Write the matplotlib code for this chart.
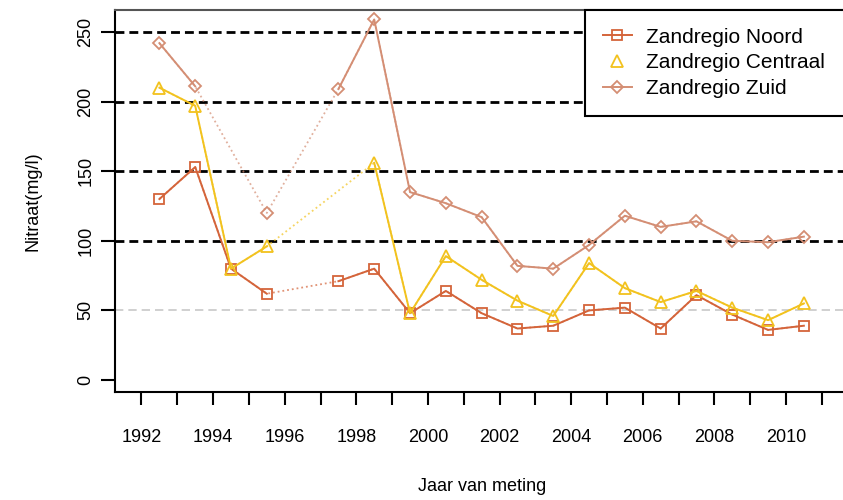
import numpy as np
import matplotlib
matplotlib.use("Agg")
import matplotlib.pyplot as plt
from matplotlib.lines import Line2D

plt.rcParams['font.family'] = ['Liberation Sans', 'DejaVu Sans']

years = np.arange(1992, 2011) + 0.5
noord = [130, 153, 80, 62, np.nan, 71, 80, 48, 64, 48, 37, 39, 50, 52, 37, 61, 47, 36, 39]
centraal = [210, 197, 80, 96, np.nan, np.nan, 156, 48, 89, 72, 57, 46, 84, 66, 56, 64, 52, 43, 55]
zuid = [242, 211, np.nan, 120, np.nan, 209, 259, 135, 127, 117, 82, 80, 97, 118, 110, 114, 100, 99, 103]

names = ['Zandregio Noord', 'Zandregio Centraal', 'Zandregio Zuid']
colors = ['#d4643a', '#f2c21e', '#d48e74']
markers = ['s', '^', 'D']
msizes = [7, 8, 6]

year_ticks = np.arange(1992, 2012)
year_labels = np.arange(1992, 2011, 2)
black_lines = [100, 150, 200, 250]
gray_lines = [50]

fig = plt.figure(figsize=(8.43, 5.0), dpi=100)
ax = fig.add_axes([115 / 843, (500 - 392) / 500, (849 - 115) / 843, (392 - 10) / 500])

ax.set_xlim(1991.26, 2011.76)
ax.set_ylim(-8.6, 265.8)

for v in black_lines:
    ax.axhline(v, color='black', lw=2, ls=(0, (3.2, 1.8)), zorder=1)
for v in gray_lines:
    ax.axhline(v, color='#c8c8c8', lw=1.2, ls=(0, (5, 3)), zorder=1)

series = [noord, centraal, zuid]
for vals, c, m, ms in zip(series, colors, markers, msizes):
    vals = np.array(vals, dtype=float)
    ok = ~np.isnan(vals)
    # dotted bridge over missing years
    ax.plot(years[ok], vals[ok], color=c, lw=1.3, ls=':', alpha=0.7, zorder=2)
    ax.plot(years, vals, color=c, lw=1.4, marker=m, ms=ms, mfc='none',
            mec=c, mew=1.3, zorder=3)

# ticks
ax.set_xticks(year_ticks)
ax.set_xticklabels([str(y) if y in year_labels else '' for y in year_ticks])
ax.set_yticks([0, 50, 100, 150, 200, 250])
ax.tick_params(axis='x', length=9, width=1.5, pad=18, labelsize=13)
ax.tick_params(axis='y', length=10, width=1.5, pad=5, labelsize=13)
for lab in ax.get_yticklabels():
    lab.set_rotation(90)
    lab.set_va('center')
for t in ax.yaxis.get_major_ticks()[:2]:
    t.tick1line.set_color('#c8c8c8')

for s in ['left', 'bottom']:
    ax.spines[s].set_linewidth(1.5)
ax.spines['top'].set_linewidth(1.5)
ax.spines['top'].set_color('#555555')
ax.spines['right'].set_visible(False)

ax.set_xlabel('Jaar van meting', fontsize=13, labelpad=23)
ax.set_ylabel('Nitraat(mg/l)', fontsize=13, labelpad=26)

handles = []
for n, c, m, ms in zip(names, colors, markers, msizes):
    ls = '-' if m != '^' else 'none'
    handles.append(Line2D([], [], color=c, lw=1.4, ls=ls, marker=m, ms=ms,
                          mfc='none', mec=c, mew=1.3, label=n))
x0 = (585 - 115) / 734
leg = ax.legend(handles=handles, loc='upper right', bbox_to_anchor=(x0, 0, 1 - x0, 1),
                mode='expand', borderaxespad=0, fancybox=False, edgecolor='black',
                fontsize=15, handlelength=1.4, labelspacing=0.32, borderpad=0.85,
                handletextpad=0.7, framealpha=1)
leg.get_frame().set_linewidth(1.5)
leg.set_zorder(5)

fig.savefig('out.png', dpi=100)
